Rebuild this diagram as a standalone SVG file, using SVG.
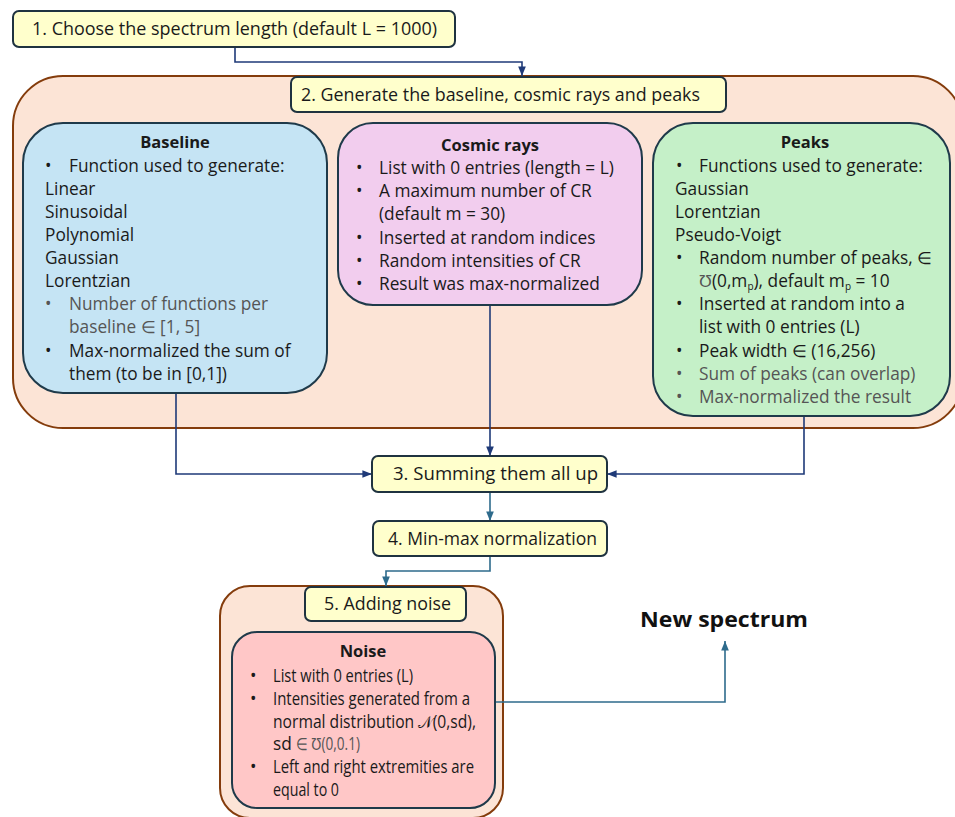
<svg xmlns="http://www.w3.org/2000/svg" width="955" height="817" viewBox="0 0 955 817">
  <style>
    text { font-family: "Open Sans", "Liberation Sans", Arial, sans-serif; font-size: 17.3px; fill: #1a1a1a; }
    .title { font-weight: bold; text-anchor: middle; font-size: 16.5px; }
    .step { font-size: 17.5px; }
    .gray { fill: #555555; }
    .sub { font-size: 10px; }
    .big { font-size: 21px; font-weight: bold; fill: #111111; }
    .stepbox { fill: #ffffcc; stroke: #1f3340; stroke-width: 2; }
    .group { fill: #fce4d6; stroke: #843c0c; stroke-width: 2; }
    .inner { stroke: #1f3a4a; stroke-width: 2; }
    .navy { fill: none; stroke: #1f3a78; stroke-width: 1.6; }
    .teal { fill: none; stroke: #2e6b8c; stroke-width: 1.6; }
  </style>
  <defs>
    <marker id="arrN" viewBox="0 0 10 10" refX="10" refY="5" markerWidth="6" markerHeight="6" orient="auto">
      <path d="M0,1 L10,5 L0,9 z" fill="#1f3a78"/>
    </marker>
    <marker id="arrT" viewBox="0 0 10 10" refX="10" refY="5" markerWidth="6" markerHeight="6" orient="auto">
      <path d="M0,1 L10,5 L0,9 z" fill="#2e6b8c"/>
    </marker>
  </defs>

  <rect width="955" height="817" fill="#ffffff"/>

  <!-- generation container -->
  <g id="generate-group">
    <rect class="group" x="13" y="76" width="950" height="352" rx="50"/>
  </g>

  <!-- noise container -->
  <g id="noise-group">
    <rect class="group" x="220" y="586" width="283" height="232" rx="30"/>
  </g>

  <!-- connectors -->
  <g id="connectors">
    <path class="navy" d="M235,47 V62 H522 V76" marker-end="url(#arrN)"/>
    <path class="navy" d="M176,393 V474 H372" marker-end="url(#arrN)"/>
    <path class="navy" d="M490,305 V456" marker-end="url(#arrN)"/>
    <path class="navy" d="M804,416 V474 H607" marker-end="url(#arrN)"/>
    <path class="teal" d="M490,492 V521" marker-end="url(#arrT)"/>
    <path class="teal" d="M490,556 V571 H386 V586" marker-end="url(#arrT)"/>
    <path class="teal" d="M495,702 H725 V641" marker-end="url(#arrT)"/>
  </g>

  <g id="step1">
    <rect class="stepbox" x="13" y="11" width="442" height="36" rx="6"/>
    <text class="step" x="32" y="35" textLength="405" lengthAdjust="spacingAndGlyphs">1. Choose the spectrum length (default  L = 1000)</text>
  </g>

  <g id="step2">
    <rect class="stepbox" x="291" y="77" width="435" height="35" rx="6"/>
    <text class="step" x="301" y="101" textLength="399" lengthAdjust="spacingAndGlyphs">2. Generate the baseline, cosmic rays and peaks</text>
  </g>

  <g id="baseline">
    <rect class="inner" x="23" y="123" width="304" height="270" rx="40" fill="#c5e4f4"/>
    <text class="title" x="175" y="148">Baseline</text>
    <text x="45" y="172">•</text><text x="69" y="172">Function used to generate:</text>
    <text x="45" y="195">Linear</text>
    <text x="45" y="218">Sinusoidal</text>
    <text x="45" y="241">Polynomial</text>
    <text x="45" y="264">Gaussian</text>
    <text x="45" y="287">Lorentzian</text>
    <text x="45" y="310" class="gray">•</text><text x="69" y="310" class="gray">Number of functions per</text>
    <text x="69" y="333" class="gray">baseline ∈ [1, 5]</text>
    <text x="45" y="357">•</text><text x="69" y="357">Max-normalized the sum of</text>
    <text x="69" y="380">them (to be in [0,1])</text>
  </g>

  <g id="cosmic-rays">
    <rect class="inner" x="338" y="123" width="304" height="182" rx="35" fill="#f2cdee"/>
    <text class="title" x="490" y="151">Cosmic rays</text>
    <text x="356" y="174">•</text><text x="379" y="174">List with 0 entries (length = L)</text>
    <text x="356" y="197">•</text><text x="379" y="197">A maximum number of CR</text>
    <text x="379" y="220">(default m = 30)</text>
    <text x="356" y="244">•</text><text x="379" y="244">Inserted at random indices</text>
    <text x="356" y="267">•</text><text x="379" y="267">Random intensities of CR</text>
    <text x="356" y="290">•</text><text x="379" y="290">Result was max-normalized</text>
  </g>

  <g id="peaks">
    <rect class="inner" x="653" y="123" width="297" height="293" rx="40" fill="#c5f0c8"/>
    <text class="title" x="805" y="148">Peaks</text>
    <text x="676" y="172">•</text><text x="699" y="172">Functions used to generate:</text>
    <text x="675" y="195">Gaussian</text>
    <text x="675" y="218">Lorentzian</text>
    <text x="675" y="241">Pseudo-Voigt</text>
    <text x="676" y="264">•</text><text x="699" y="264">Random number of peaks, ∈</text>
    <text x="699" y="287"><tspan class="gray">Ʊ</tspan>(0,m<tspan class="sub" dy="3">p</tspan><tspan dy="-3">), default m</tspan><tspan class="sub" dy="3">p</tspan><tspan dy="-3"> = 10</tspan></text>
    <text x="676" y="310">•</text><text x="699" y="310">Inserted at random into a</text>
    <text x="699" y="333">list with 0 entries (L)</text>
    <text x="676" y="357">•</text><text x="699" y="357">Peak width ∈ (16,256)</text>
    <text x="676" y="380" class="gray">•</text><text x="699" y="380" class="gray">Sum of peaks (can overlap)</text>
    <text x="676" y="403" class="gray">•</text><text x="699" y="403" class="gray">Max-normalized the result</text>
  </g>

  <g id="step3">
    <rect class="stepbox" x="372" y="456" width="235" height="36" rx="6"/>
    <text class="step" x="393" y="480" textLength="205" lengthAdjust="spacingAndGlyphs">3. Summing them all up</text>
  </g>

  <g id="step4">
    <rect class="stepbox" x="373" y="521" width="234" height="35" rx="6"/>
    <text class="step" x="388" y="545" textLength="209" lengthAdjust="spacingAndGlyphs">4. Min-max normalization</text>
  </g>

  <g id="step5">
    <rect class="stepbox" x="305" y="587" width="161" height="34" rx="6"/>
    <text class="step" x="324" y="610" textLength="127" lengthAdjust="spacingAndGlyphs">5. Adding noise</text>
  </g>

  <g id="noise">
    <rect class="inner" x="232" y="632" width="263" height="176" rx="25" fill="#ffc7c7"/>
    <text class="title" x="363" y="657">Noise</text>
    <text x="250" y="682">•</text><text x="273" y="682" textLength="140" lengthAdjust="spacingAndGlyphs">List with 0 entries (L)</text>
    <text x="250" y="705">•</text><text x="273" y="705" textLength="197" lengthAdjust="spacingAndGlyphs">Intensities generated from a</text>
    <text x="273" y="728" textLength="203" lengthAdjust="spacingAndGlyphs">normal distribution 𝒩(0,sd),</text>
    <text x="273" y="750">sd</text>
    <text x="296" y="750" class="gray" textLength="64" lengthAdjust="spacingAndGlyphs">∈ Ʊ(0,0.1)</text>
    <text x="250" y="773">•</text><text x="273" y="773" textLength="201" lengthAdjust="spacingAndGlyphs">Left and right extremities are</text>
    <text x="273" y="796" textLength="66" lengthAdjust="spacingAndGlyphs">equal to 0</text>
  </g>

  <g id="new-spectrum">
    <text class="big" x="640" y="627" textLength="168" lengthAdjust="spacingAndGlyphs">New spectrum</text>
  </g>
</svg>
